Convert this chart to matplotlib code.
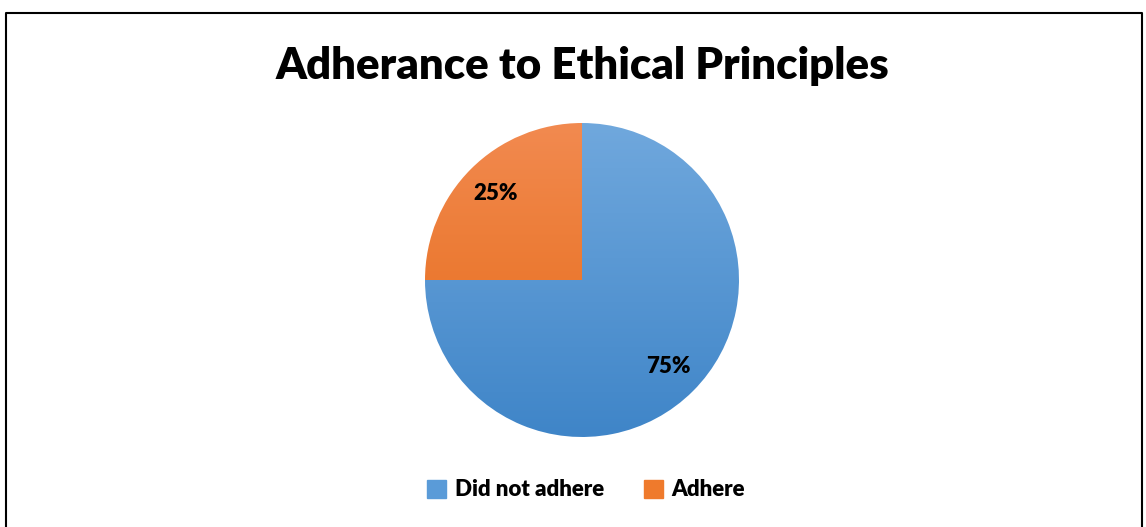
import matplotlib.pyplot as plt
import matplotlib.colors as mcolors
import numpy as np

labels = ["Did not adhere", "Adhere"]
values = [75, 25]
colors_top = ["#70a8dd", "#f28a50"]
colors_bottom = ["#3f85c8", "#e46812"]
legend_colors = ["#5a9bd8", "#ef7a2c"]

plt.rcParams['font.family'] = ['Lato', 'DejaVu Sans']

W, H = 1146, 527
fig = plt.figure(figsize=(W / 100, H / 100), dpi=100)

# frame line (left, top, right)
fig.add_artist(plt.Line2D([5.5 / W, 5.5 / W, 1141.5 / W, 1141.5 / W],
                          [0, 1 - 12.5 / H, 1 - 12.5 / H, 0],
                          color="black", lw=1.5, transform=fig.transFigure))

fig.text(582 / W, 1 - 66 / H, "Adherance to Ethical Principles",
         ha="center", va="center", fontsize=31.5, fontweight="heavy")

cx, cy, r = 582, 280, 157
ax = fig.add_axes([(cx - r) / W, (H - cy - r) / H, 2 * r / W, 2 * r / H])
wedges, texts, autotexts = ax.pie(values, startangle=90, counterclock=False,
                                  autopct="%1.0f%%", pctdistance=0.78,
                                  textprops=dict(fontsize=16, fontweight="heavy"))

# vertical gradient fill in each wedge
for w, ct, cb in zip(wedges, colors_top, colors_bottom):
    w.set_facecolor("none")
    w.set_edgecolor("none")
    cmap = mcolors.LinearSegmentedColormap.from_list("g", [cb, ct])
    grad = np.linspace(0, 1, 256).reshape(-1, 1)
    im = ax.imshow(grad, cmap=cmap, extent=[-1, 1, -1, 1], origin="lower",
                   aspect="auto", zorder=1)
    im.set_clip_path(w)
for t in autotexts:
    t.set_zorder(3)
ax.set_xlim(-1, 1)
ax.set_ylim(-1, 1)
ax.axis("off")

handles = [plt.Rectangle((0, 0), 1, 1, color=c) for c in legend_colors]
fig.legend(handles, labels, loc="center", bbox_to_anchor=(586 / W, 1 - 490 / H),
           ncol=2, frameon=False, prop=dict(size=16, weight="heavy"),
           handlelength=0.85, handleheight=0.85, handletextpad=0.4, columnspacing=1.8)

fig.savefig("out.png", dpi=100)
